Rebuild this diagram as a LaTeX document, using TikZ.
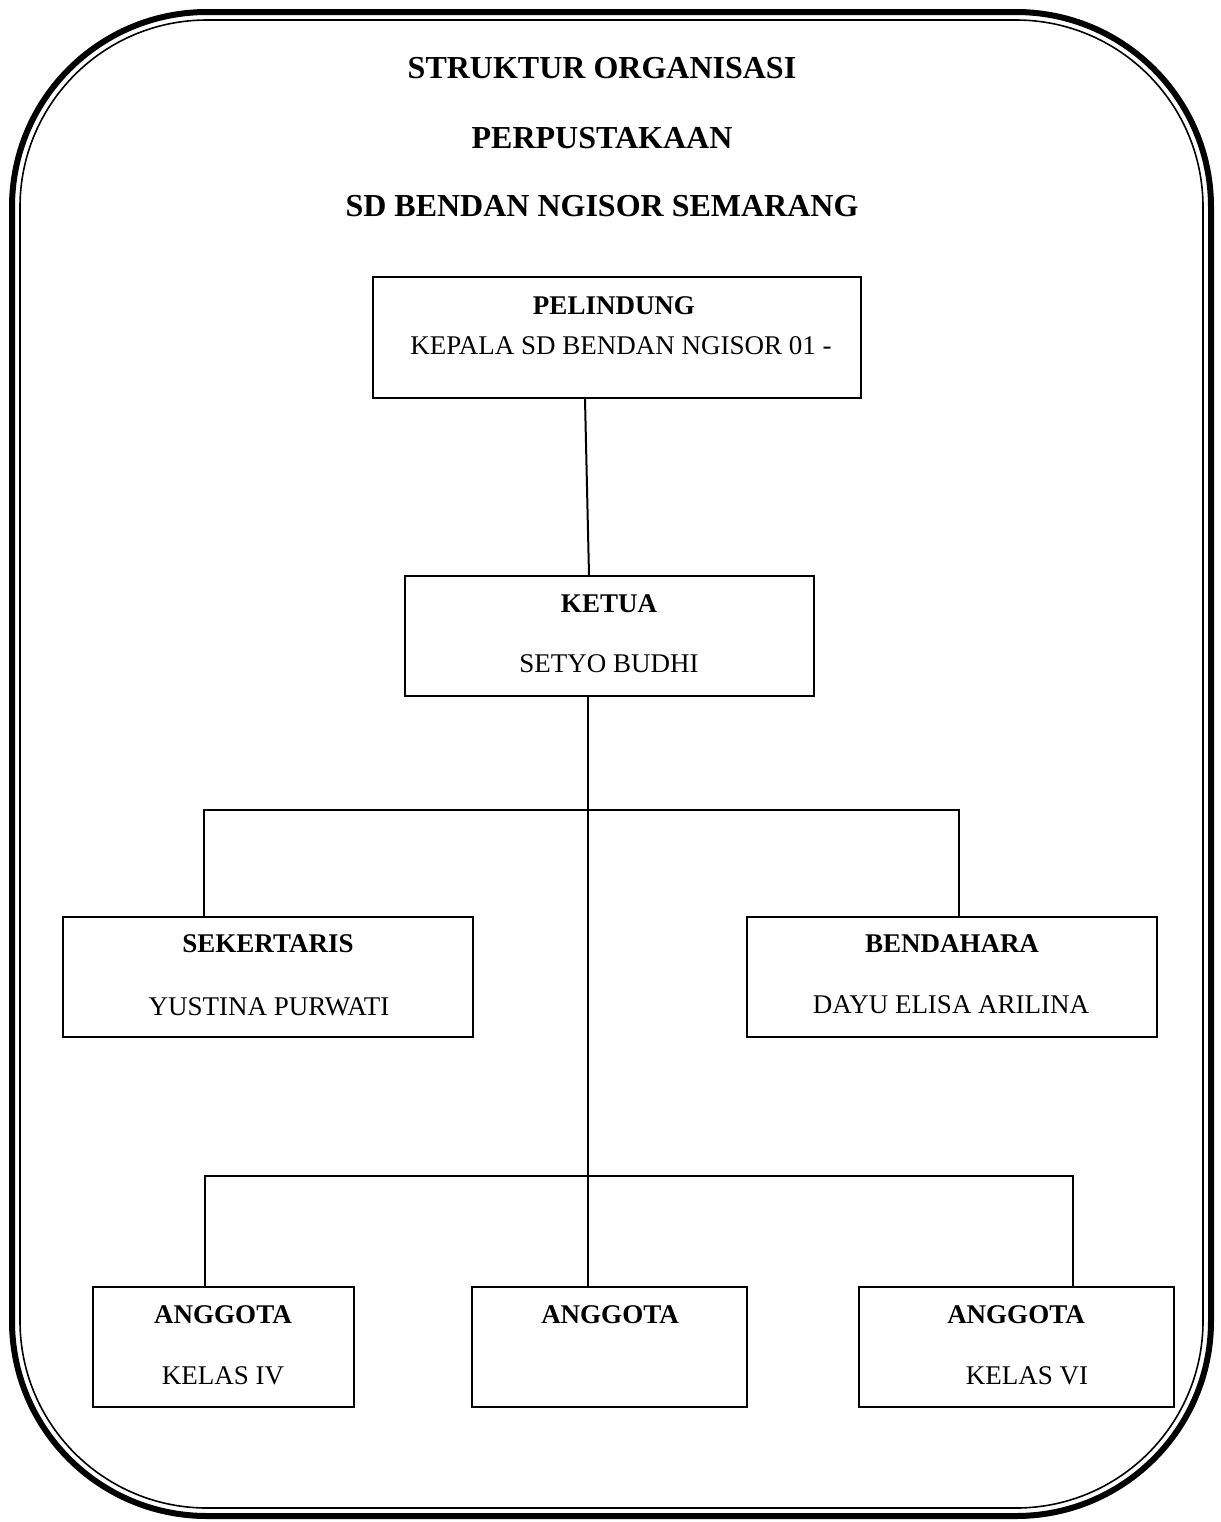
\documentclass[tikz,border=0pt]{standalone}
\usepackage{fontspec}
\setmainfont{Liberation Serif}
\usetikzlibrary{positioning}

\begin{document}
\begin{tikzpicture}[x=0.5pt,y=-0.5pt,line width=1pt]
\tikzstyle{jabatan}=[shape=rectangle,draw,line width=1pt,minimum height=60pt,inner sep=0pt]
\tikzstyle{judul}=[font=\fontsize{16}{19}\selectfont\bfseries,inner sep=0pt]
\tikzstyle{posisi}=[font=\fontsize{13.5}{16}\selectfont\bfseries,inner sep=0pt]
\tikzstyle{nama}=[font=\fontsize{13.5}{16}\selectfont,inner sep=0pt]

\useasboundingbox (0,0) rectangle (1221,1522);

% bingkai
\draw[line width=3pt,rounded corners=97.5pt] (12,12) rectangle (1211,1516);
\draw[line width=0.8pt,rounded corners=93.5pt] (20,20) rectangle (1203,1508);

% judul
\node[judul] (T1) at (602,68)  {STRUKTUR ORGANISASI};
\node[judul] (T2) at (602,138) {PERPUSTAKAAN};
\node[judul] (T3) at (602,206) {SD BENDAN NGISOR SEMARANG};

% kotak
\node[jabatan,minimum width=244pt,minimum height=60.5pt] (P) at (617,337.5) {};
\node[jabatan,minimum width=204.5pt] (K)  at (609.5,636) {};
\node[jabatan,minimum width=205pt]   (S)  at (268,977)   {};
\node[jabatan,minimum width=205pt]   (B)  at (952,977)   {};
\node[jabatan,minimum width=130.5pt] (A1) at (223.5,1347) {};
\node[jabatan,minimum width=137.5pt] (A2) at (609.5,1347) {};
\node[jabatan,minimum width=157.5pt] (A3) at (1016.5,1347) {};

% isi
\node[posisi] (P1) at (614,306)  {PELINDUNG};
\node[nama]   (P2) at (621,346)  {KEPALA SD BENDAN NGISOR 01 -};
\node[posisi] (K1) at (609,604)  {KETUA};
\node[nama]   (K2) at (609,664)  {SETYO BUDHI};
\node[posisi] (S1) at (268,944)  {SEKERTARIS};
\node[nama]   (S2) at (269,1007) {YUSTINA PURWATI};
\node[posisi] (B1) at (952,944)  {BENDAHARA};
\node[nama]   (B2) at (951,1005) {DAYU ELISA ARILINA};
\node[posisi] (A11) at (223,1315) {ANGGOTA};
\node[nama]   (A12) at (223,1376) {KELAS IV};
\node[posisi] (A21) at (610,1315) {ANGGOTA};
\node[posisi] (A31) at (1016,1315) {ANGGOTA};
\node[nama]   (A32) at (1027,1376) {KELAS VI};

% garis
\coordinate (t)  at (588,1176);
\coordinate (s1) at (204,810);
\coordinate (b1) at (959,810);
\coordinate (a1) at (205,1176);
\coordinate (a3) at (1073,1176);

\draw ([xshift=-16pt]P.south) -- ([xshift=-10.25pt]K.north);
\draw (K.south -| t) -- (A2.north -| t);
\draw (S.north -| s1) -- (s1) -- (b1) -- (B.north -| b1);
\draw (A1.north -| a1) -- (a1) -- (a3) -- (A3.north -| a3);
\end{tikzpicture}
\end{document}
